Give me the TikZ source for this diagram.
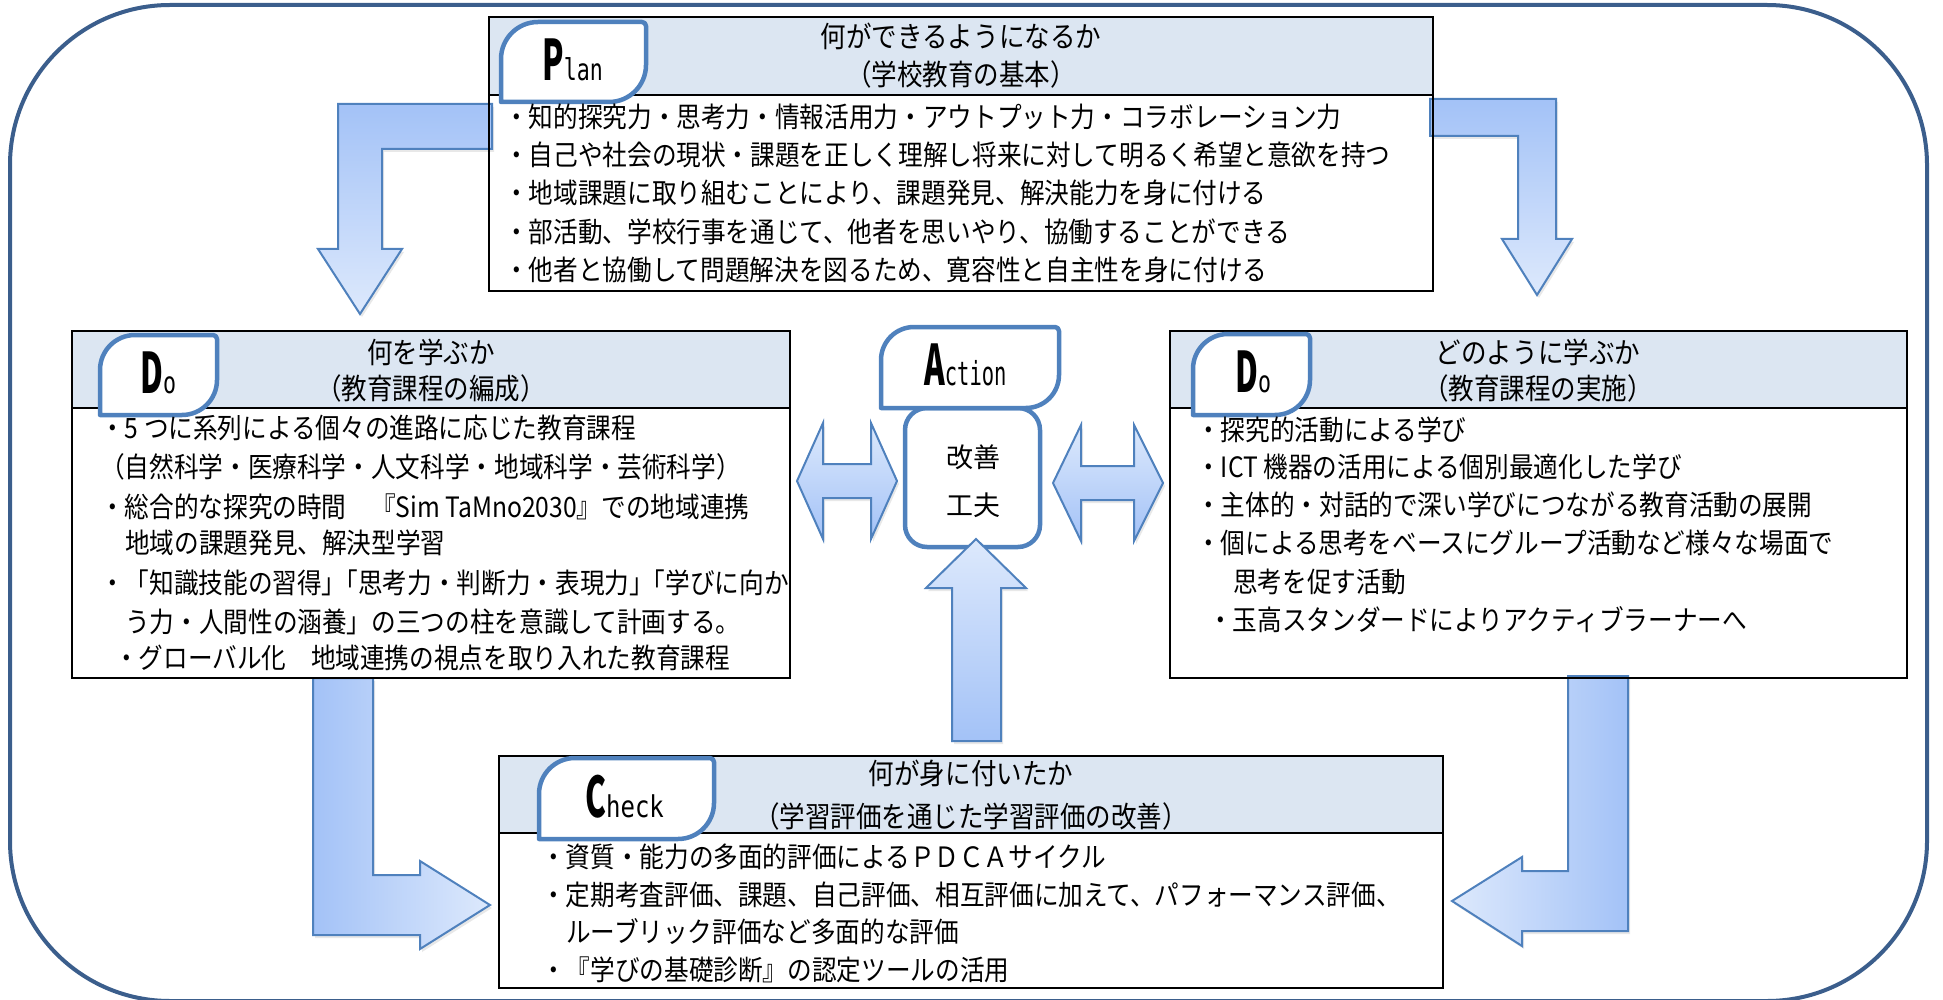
\documentclass[tikz,border=0pt]{standalone}
\usepackage{fontspec}
\newfontfamily\jpf{Noto Sans CJK JP}[FakeStretch=0.88]
\newfontfamily\jpn{Noto Sans CJK JP}
\newfontfamily\capf{Noto Sans CJK JP}[FakeStretch=0.56]
\newfontfamily\monA{DejaVu Sans Mono}[FakeStretch=0.62]
\newfontfamily\monB{DejaVu Sans Mono}[FakeStretch=0.72]
\newfontfamily\monC{DejaVu Sans Mono}[FakeStretch=0.8]
\usetikzlibrary{shadows}
\definecolor{frameblue}{RGB}{59,94,140}
\definecolor{arrline}{RGB}{79,129,189}
\definecolor{arrdark}{RGB}{163,194,247}
\definecolor{arrlight}{RGB}{221,233,252}
\definecolor{headfill}{RGB}{220,230,242}
\tikzset{
  arr/.style={draw=arrline, line width=2pt, line join=miter,
    drop shadow={opacity=0.18, shadow xshift=2pt, shadow yshift=-3pt}},
  boxline/.style={draw=black, line width=2.2pt},
  body/.style={anchor=west, inner sep=0pt, font=\jpf\fontsize{28}{28}\selectfont,
    text height=24.6pt, text depth=3.4pt},
  head/.style={anchor=center, inner sep=0pt, font=\jpf\fontsize{29}{29}\selectfont,
    text height=25.5pt, text depth=3.5pt},
  tabshape/.style={draw=arrline, line width=4.5pt, fill=white, line join=round},
  tablabel/.style={anchor=base west, inner sep=0pt},
  kaitext/.style={anchor=center, inner sep=0pt, font=\jpn\fontsize{27}{27}\selectfont,
    text height=23.8pt, text depth=3.2pt},
}
\newcommand\capl[1]{{\capf\bfseries\fontsize{56}{56}\selectfont #1}}
\newcommand\leafshape[5]{%
  \path[tabshape] (#1,#4) -- (#1,#2+#5)
    .. controls (#1,#2+0.448*#5) and (#1+0.448*#5,#2) .. (#1+#5,#2)
    -- (#3-4,#2) .. controls (#3-1.8,#2) and (#3,#2+1.8) .. (#3,#2+4)
    -- (#3,#4-#5) .. controls (#3,#4-0.448*#5) and (#3-0.448*#5,#4) .. (#3-#5,#4)
    -- cycle;}
\begin{document}
\begin{tikzpicture}[x=1pt,y=-1pt]
\useasboundingbox (0,0) rectangle (1943,1000);
% outer frame
\draw[frameblue, line width=4pt, rounded corners=160pt] (10,5) rectangle (1927,1001);

% bent arrows
\path[arr, top color=arrdark, bottom color=arrlight]
  (492,104) -- (338,104) -- (338,249) -- (318,249) -- (360,314) -- (402,249)
  -- (382,249) -- (382,149) -- (492,149) -- cycle;
\path[arr, top color=arrdark, bottom color=arrlight]
  (1430,99) -- (1556,99) -- (1556,239) -- (1572,239) -- (1537,295) -- (1502,239)
  -- (1518,239) -- (1518,136) -- (1430,136) -- cycle;
\path[arr, left color=arrdark, right color=arrlight]
  (313,678) -- (373,678) -- (373,875) -- (420,875) -- (420,861) -- (490,905)
  -- (420,949) -- (420,935) -- (313,935) -- cycle;
\path[arr, right color=arrdark, left color=arrlight]
  (1628,676) -- (1568,676) -- (1568,871) -- (1522,871) -- (1522,857) -- (1452,901)
  -- (1522,946) -- (1522,931) -- (1628,931) -- cycle;

% double arrows
\path[arr, top color=arrlight, bottom color=arrdark]
  (797,481) -- (823,423) -- (823,464) -- (871,464) -- (871,423) -- (897,481)
  -- (871,539) -- (871,498) -- (823,498) -- (823,539) -- cycle;
\path[arr, top color=arrlight, bottom color=arrdark]
  (1053,483) -- (1081,425) -- (1081,466) -- (1134,466) -- (1134,425) -- (1163,483)
  -- (1134,541) -- (1134,500) -- (1081,500) -- (1081,541) -- cycle;

% Plan box
\fill[headfill] (489,17) rectangle (1433,95);
\draw[boxline] (489,17) rectangle (1433,291);
\draw[boxline] (489,95) -- (1433,95);
% left Do box
\fill[headfill] (72,331) rectangle (790,408);
\draw[boxline] (72,331) rectangle (790,678);
\draw[boxline] (72,408) -- (790,408);
% right Do box
\fill[headfill] (1170,331) rectangle (1907,408);
\draw[boxline] (1170,331) rectangle (1907,678);
\draw[boxline] (1170,408) -- (1907,408);
% Check box
\fill[headfill] (499,756) rectangle (1443,833);
\draw[boxline] (499,756) rectangle (1443,988);
\draw[boxline] (499,833) -- (1443,833);

% Action box
\node[draw=arrline, line width=4.5pt, rounded corners=22pt, fill=white,
  minimum width=135pt, minimum height=139pt, inner sep=0pt] (kaizen) at (972.5,477.5) {};
\node[kaitext] (kai1) at (973,457) {改善};
\node[kaitext] (kai2) at (973,505) {工夫};

% tabs
\leafshape{501}{22}{646}{102}{37}
\leafshape{100}{335}{217}{415}{35}
\leafshape{1193}{334}{1310}{415}{35}
\leafshape{539}{758}{714}{839}{36}
\leafshape{881}{327}{1059}{408}{33}

\node[tablabel] (plantab) at (542,81) {\capl{P}{\monB\fontsize{30}{30}\selectfont lan}};
\node[tablabel] (dotabL) at (140,393) {\capl{D}{\monB\fontsize{30}{30}\selectfont o}};
\node[tablabel] (dotabR) at (1235,392) {\capl{D}{\monB\fontsize{30}{30}\selectfont o}};
\node[tablabel] (checktab) at (585,817) {\capl{C}{\monC\fontsize{30}{30}\selectfont heck}};
\node[tablabel] (acttab) at (924,385) {\capl{A}{\monA\fontsize{33}{33}\selectfont ction}};

% up arrow
\path[arr, top color=arrlight, bottom color=arrdark]
  (952,741) -- (952,588) -- (926,588) -- (976,539) -- (1026,588) -- (1001,588)
  -- (1001,741) -- cycle;

% headers
\node[head] (ph1) at (961,37) {何ができるようになるか};
\node[head] (ph2) at (961,75) {（学校教育の基本）};
\node[head] (lh1) at (431,352) {何を学ぶか};
\node[head] (lh2) at (431,388) {（教育課程の編成）};
\node[head] (rh1) at (1538,352) {どのように学ぶか};
\node[head] (rh2) at (1538,388) {（教育課程の実施）};
\node[head] (ch1) at (971,773) {何が身に付いたか};
\node[head] (ch2) at (971,816) {（学習評価を通じた学習評価の改善）};

% Plan body
\node[body] (p1) at (504,117) {・知的探究力・思考力・情報活用力・アウトプット力・コラボレーション力};
\node[body] (p2) at (504,155) {・自己や社会の現状・課題を正しく理解し将来に対して明るく希望と意欲を持つ};
\node[body] (p3) at (504,193) {・地域課題に取り組むことにより、課題発見、解決能力を身に付ける};
\node[body] (p4) at (504,232) {・部活動、学校行事を通じて、他者を思いやり、協働することができる};
\node[body] (p5) at (504,270) {・他者と協働して問題解決を図るため、寛容性と自主性を身に付ける};

% left Do body
\node[body] (d1) at (100,428) {・5 つに系列による個々の進路に応じた教育課程};
\node[body] (d2) at (100,467) {（自然科学・医療科学・人文科学・地域科学・芸術科学）};
\node[body] (d3) at (100,507) {・総合的な探究の時間　『Sim TaMno2030』での地域連携};
\node[body] (d4) at (125,543) {地域の課題発見、解決型学習};
\node[body] (d5) at (100,583) {・「知識技能の習得」\kern-13pt「思考力・判断力・表現力」\kern-13pt「学びに向か};
\node[body] (d6) at (125,622) {う力・人間性の涵養」の三つの柱を意識して計画する。};
\node[body] (d7) at (114,658) {・グローバル化　地域連携の視点を取り入れた教育課程};

% right Do body
\node[body] (e1) at (1196,430) {・探究的活動による学び};
\node[body] (e2) at (1196,467) {・ICT 機器の活用による個別最適化した学び};
\node[body] (e3) at (1196,505) {・主体的・対話的で深い学びにつながる教育活動の展開};
\node[body] (e4) at (1196,543) {・個による思考をベースにグループ活動など様々な場面で};
\node[body] (e5) at (1233,582) {思考を促す活動};
\node[body] (e6) at (1208,620) {・玉高スタンダードによりアクティブラーナーへ};

% Check body
\node[body] (c1) at (541,857) {・資質・能力の多面的評価によるＰＤＣＡサイクル};
\node[body] (c2) at (541,895) {・定期考査評価、課題、自己評価、相互評価に加えて、パフォーマンス評価、};
\node[body] (c3) at (566,932) {ルーブリック評価など多面的な評価};
\node[body] (c4) at (541,970) {・『学びの基礎診断』の認定ツールの活用};
\end{tikzpicture}
\end{document}
